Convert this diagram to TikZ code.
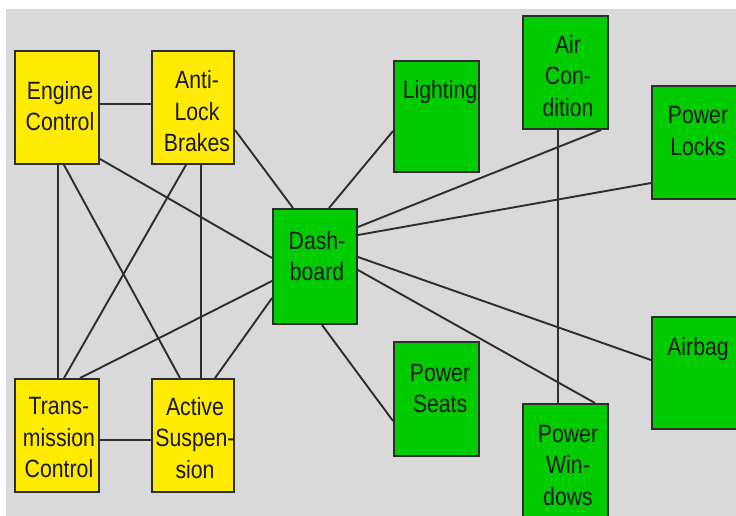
\documentclass[tikz,border=0pt]{standalone}
\usepackage{fontspec}
\newfontfamily\boxfont{Liberation Sans}[FakeStretch=0.85]
\usetikzlibrary{calc}
\definecolor{bggray}{RGB}{217,217,217}
\definecolor{boxyellow}{RGB}{255,235,0}
\definecolor{boxgreen}{RGB}{0,204,0}
\definecolor{edgecol}{RGB}{45,45,45}
\definecolor{txtcol}{RGB}{25,25,25}
\pgfdeclarelayer{bglayer}
\pgfdeclarelayer{edgelayer}
\pgfsetlayers{bglayer,edgelayer,main}
\tikzset{
  unitbox/.style={draw=edgecol, line width=1.9pt, inner sep=0pt, rectangle},
  ybox/.style={unitbox, fill=boxyellow},
  gbox/.style={unitbox, fill=boxgreen},
  lbl/.style={inner sep=0pt, align=center, text=txtcol, font=\boxfont\fontsize{25}{31.5}\selectfont},
  conn/.style={draw=edgecol, line width=1.9pt}
}
\begin{document}
\begin{tikzpicture}[x=1pt,y=-1pt]
\useasboundingbox (0,0) rectangle (736,516);
\begin{pgfonlayer}{bglayer}
\fill[bggray] (6,9) rectangle (736,516);
\end{pgfonlayer}
% boxes
\node[ybox, minimum width=84pt, minimum height=113pt] (eng) at (57,107.5) {};
\node[ybox, minimum width=82pt, minimum height=113pt] (abs) at (193,107.5) {};
\node[ybox, minimum width=84pt, minimum height=113pt] (trans) at (57,435.5) {};
\node[ybox, minimum width=82pt, minimum height=113pt] (act) at (193,435.5) {};
\node[gbox, minimum width=84pt, minimum height=115pt] (dash) at (315,266.5) {};
\node[gbox, minimum width=85pt, minimum height=111pt] (light) at (436.5,116.5) {};
\node[gbox, minimum width=85pt, minimum height=113pt] (air) at (565.5,72.5) {};
\node[gbox, minimum width=85pt, minimum height=113pt] (locks) at (694.5,142.5) {};
\node[gbox, minimum width=85pt, minimum height=114pt] (seats) at (436.5,399) {};
\node[gbox, minimum width=85pt, minimum height=113pt] (win) at (565.5,460.5) {};
\node[gbox, minimum width=85pt, minimum height=112pt] (airbag) at (694.5,373) {};
% labels
\node[lbl] (teng) at (60,106) {Engine\\Control};
\node[lbl] (tabs) at (197,111.5) {Anti-\\Lock\\Brakes};
\node[lbl] (ttrans) at (59,438) {Trans-\\mission\\Control};
\node[lbl] (tact) at (195,438) {Active\\Suspen-\\sion};
\node[lbl] (tdash) at (317,256) {Dash-\\board};
\node[lbl] (tlight) at (440,92) {Lighting};
\node[lbl] (tair) at (568,76) {Air\\Con-\\dition};
\node[lbl] (tlocks) at (698,131) {Power\\Locks};
\node[lbl] (tseats) at (440,388.5) {Power\\Seats};
\node[lbl] (twin) at (568,465.5) {Power\\Win-\\dows};
\node[lbl] (tairbag) at (698,349) {Airbag};
% connectors
\begin{pgfonlayer}{edgelayer}
\draw[conn] ($(eng.east)+(0,-3.5)$) -- ($(abs.west)+(0,-3.5)$);
\draw[conn] ($(eng.south)+(1,0)$) -- ($(trans.north)+(1,0)$);
\draw[conn] ($(eng.south)+(7,0)$) -- ($(act.north)+(-13,0)$);
\draw[conn] ($(eng.south east)+(0,-6)$) -- ($(dash.west)+(0,-8.5)$);
\draw[conn] ($(abs.south)+(-7,0)$) -- ($(trans.north)+(7,0)$);
\draw[conn] ($(abs.south)+(8,0)$) -- ($(act.north)+(8,0)$);
\draw[conn] ($(abs.east)+(0,22.5)$) -- ($(dash.north)+(-22,0)$);
\draw[conn] ($(dash.north)+(14,0)$) -- ($(light.west)+(0,14.5)$);
\draw[conn] ($(dash.west)+(0,14.5)$) -- ($(trans.north)+(23,0)$);
\draw[conn] ($(dash.west)+(0,31.5)$) -- ($(act.north)+(22,0)$);
\draw[conn] ($(dash.south)+(7,0)$) -- ($(seats.west)+(0,22)$);
\draw[conn] ($(dash.east)+(0,-39.5)$) -- ($(air.south)+(35.5,0)$);
\draw[conn] ($(dash.east)+(0,-31.5)$) -- ($(locks.west)+(0,40.5)$);
\draw[conn] ($(dash.east)+(0,-9.5)$) -- ($(airbag.west)+(0,-13)$);
\draw[conn] ($(dash.east)+(0,3.5)$) -- ($(win.north)+(29.5,0)$);
\draw[conn] ($(air.south)+(-7.5,0)$) -- ($(win.north)+(-7.5,0)$);
\draw[conn] ($(trans.east)+(0,4.5)$) -- ($(act.west)+(0,4.5)$);
\end{pgfonlayer}
\end{tikzpicture}
\end{document}
